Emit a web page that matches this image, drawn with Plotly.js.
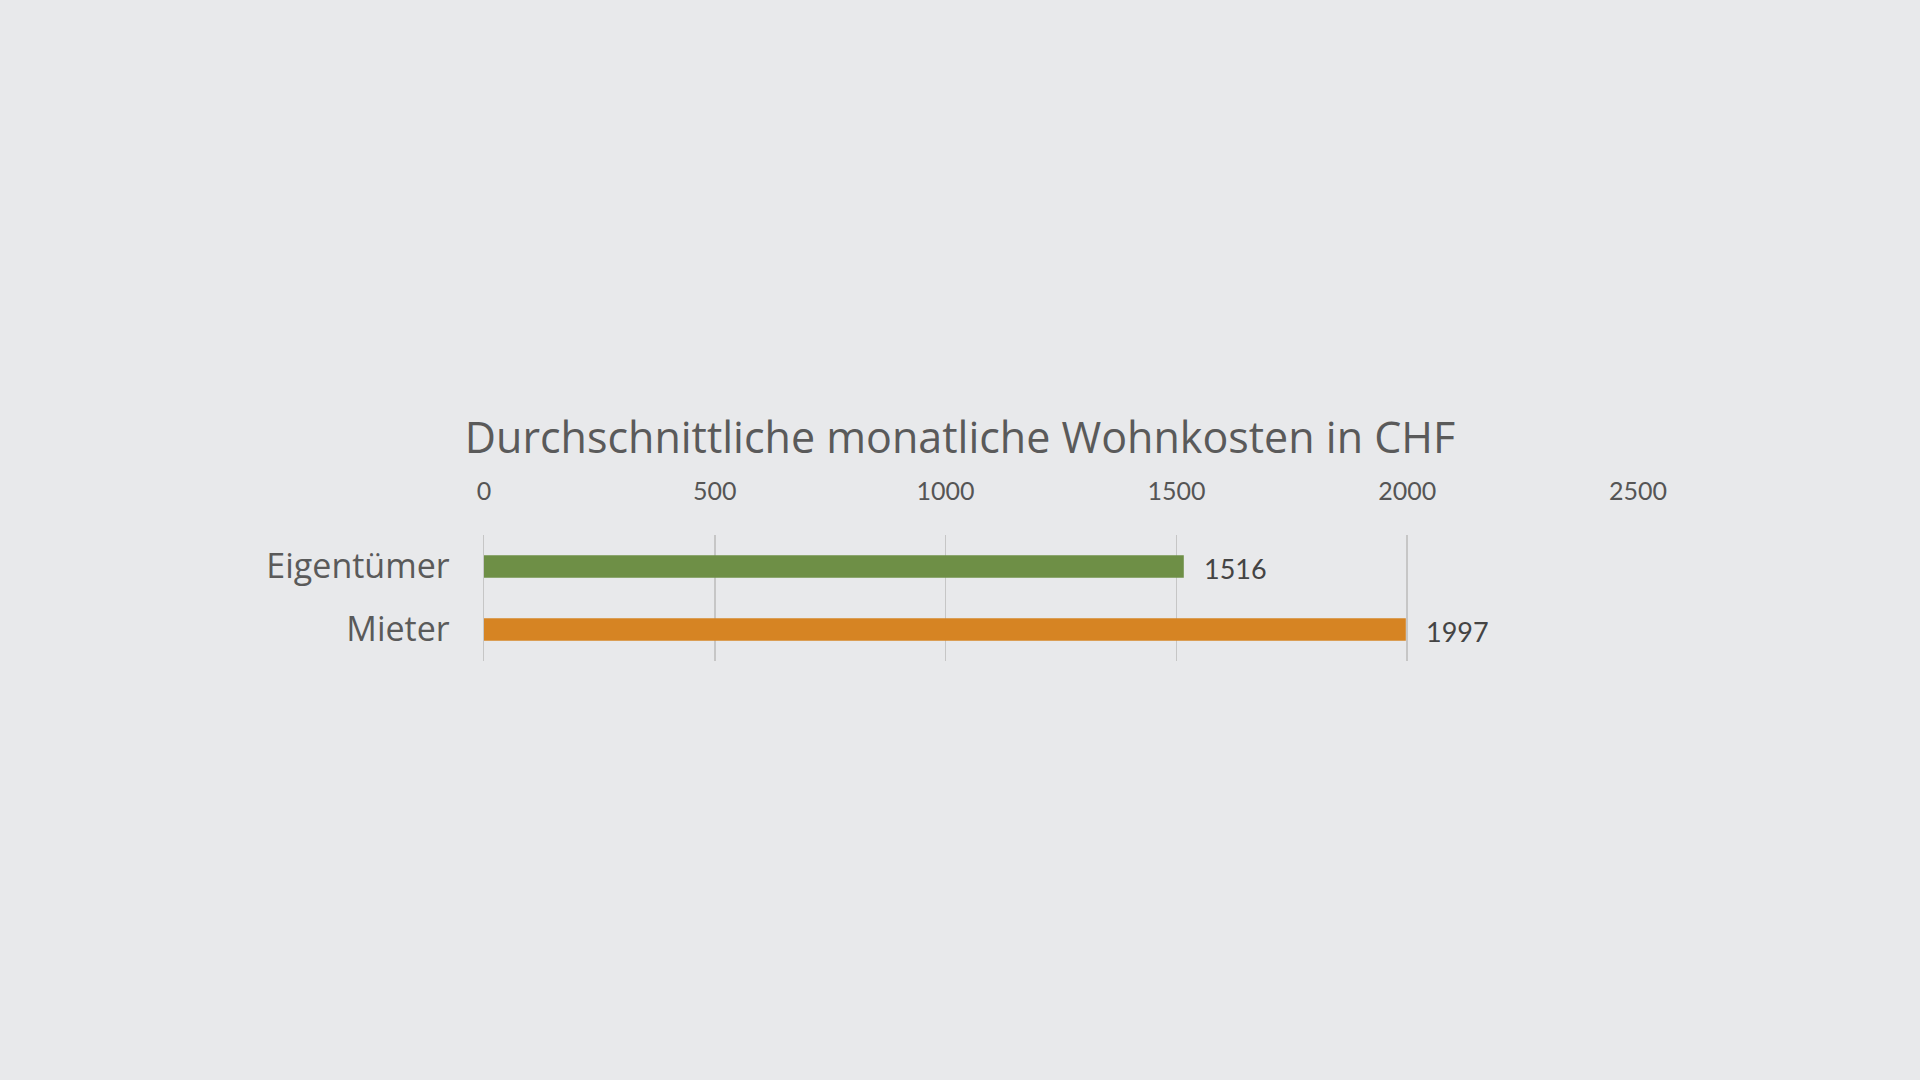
<!DOCTYPE html>
<html>
<head>
<meta charset="utf-8">
<script src="https://cdn.plot.ly/plotly-3.0.1.min.js"></script>
<style>
  html, body { margin: 0; padding: 0; background: #e8e9eb; }
  #chart { width: 1920px; height: 1080px; }
</style>
</head>
<body>
<div id="chart"></div>
<script>
const categories = ["Eigentümer", "Mieter"];
const values = [1516, 1997];
const barColors = ["#6e8f46", "#d68423"];
const xTicks = [0, 500, 1000, 1500, 2000, 2500];
const chartTitle = "Durchschnittliche monatliche Wohnkosten in CHF";

const trace = {
  type: "bar",
  orientation: "h",
  y: categories,
  x: values,
  marker: { color: barColors, line: { width: 0 } },
  hoverinfo: "skip"
};

const annotations = categories.map((c, i) => ({
  x: values[i], y: c, xref: "x", yref: "y",
  text: String(values[i]),
  showarrow: false, xanchor: "left", yanchor: "middle",
  xshift: 18, yshift: -2,
  font: { family: "Lato, 'Open Sans', sans-serif", size: 27, color: "#444444" }
}));

const layout = {
  width: 1920, height: 1080,
  paper_bgcolor: "#e8e9eb",
  plot_bgcolor: "#e8e9eb",
  margin: { l: 484, r: 282, t: 535, b: 419, pad: 0 },
  showlegend: false,
  bargap: 0.64,
  title: {
    text: chartTitle,
    x: 0.5, xref: "container", xanchor: "center",
    y: 1 - 438 / 1080, yref: "container", yanchor: "middle",
    font: { family: "'Open Sans', Lato, sans-serif", size: 43, color: "#5a5a5a" }
  },
  xaxis: {
    side: "top",
    range: [0, 2500],
    tickvals: xTicks,
    ticktext: xTicks.map(String),
    showgrid: true, gridcolor: "#c6c6c6", gridwidth: 1.5,
    zeroline: false, showline: false, ticks: "",
    ticklabelstandoff: 29,
    tickfont: { family: "Lato, 'Open Sans', sans-serif", size: 25, color: "#555555" },
    fixedrange: true
  },
  yaxis: {
    type: "category",
    autorange: "reversed",
    showgrid: false, zeroline: false,
    showline: true, linecolor: "#c6c6c6", linewidth: 1.5,
    ticks: "",
    ticklabelstandoff: 26,
    tickfont: { family: "'Open Sans', Lato, sans-serif", size: 34, color: "#5a5a5a" },
    fixedrange: true
  },
  annotations: annotations
};

Plotly.newPlot("chart", [trace], layout, { displayModeBar: false, staticPlot: true });
</script>
</body>
</html>
